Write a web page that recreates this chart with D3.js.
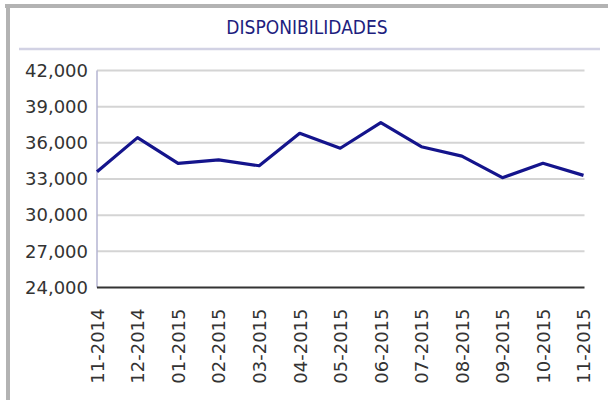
<!DOCTYPE html>
<html>
<head>
<meta charset="utf-8">
<style>
  body { margin: 0; background: #fff; }
  svg { display: block; font-family: "DejaVu Sans", sans-serif; }
</style>
</head>
<body>
<script src="https://cdn.jsdelivr.net/npm/d3@7/dist/d3.min.js"></script>
<script>

// data
var months = ['11-2014', '12-2014', '01-2015', '02-2015', '03-2015', '04-2015', '05-2015',
              '06-2015', '07-2015', '08-2015', '09-2015', '10-2015', '11-2015'];
var values = [33600, 36430, 34300, 34580, 34100, 36790, 35550,
              37670, 35680, 34900, 33110, 34300, 33300];
var yTicks = [24000, 27000, 30000, 33000, 36000, 39000, 42000];
var title = 'DISPONIBILIDADES';

var W = 615, H = 400;
var x0 = 97, x1 = 583.5, y0 = 287.5, y1 = 70.5;

var svg = d3.select('body').append('svg')
	.attr('width', W)
	.attr('height', H);

// frame
svg.append('rect')
	.attr('x', 5).attr('y', 4).attr('width', 603).attr('height', 4)
	.attr('fill', '#b3b3b3');
svg.append('rect')
	.attr('x', 6).attr('y', 4).attr('width', 4).attr('height', H)
	.attr('fill', '#b3b3b3');

// title
svg.append('text')
	.attr('x', 307).attr('y', 34)
	.attr('text-anchor', 'middle')
	.attr('font-family', '"DejaVu Sans Condensed", "DejaVu Sans", sans-serif')
	.attr('font-size', 19)
	.attr('fill', '#1e1e7e')
	.text(title);
svg.append('line')
	.attr('x1', 19).attr('x2', 600)
	.attr('y1', 49).attr('y2', 49)
	.attr('stroke', '#d2d2e4').attr('stroke-width', 2.5);

// scales
var x = d3.scalePoint()
	.domain(months)
	.range([x0, x1]);

var y = d3.scaleLinear()
	.domain([24000, 42000])
	.range([y0, y1]);

var fmt = d3.format(',');

// grid
svg.append('g')
	.selectAll('line')
	.data(yTicks.slice(1))
	.join('line')
		.attr('x1', x0).attr('x2', x1 + 1)
		.attr('y1', d => y(d)).attr('y2', d => y(d))
		.attr('stroke', '#d4d4d4')
		.attr('stroke-width', 2);

// y axis
var yAxis = svg.append('g')
	.attr('transform', `translate(${x0},0)`)
	.call(d3.axisLeft(y).tickValues(yTicks).tickFormat(fmt).tickSize(0).tickPadding(9))
	.call(g => g.select('.domain').remove());
yAxis.selectAll('text')
	.attr('font-size', 18)
	.attr('font-family', '"DejaVu Sans", sans-serif')
	.attr('fill', '#333');
svg.append('line')
	.attr('x1', x0).attr('x2', x0)
	.attr('y1', y1).attr('y2', y0)
	.attr('stroke', '#b4b4d2').attr('stroke-width', 1.5);

// x axis
var xAxis = svg.append('g')
	.attr('transform', `translate(0,${y0})`)
	.call(d3.axisBottom(x).tickSize(0).tickPadding(0))
	.call(g => g.select('.domain').remove());
xAxis.selectAll('text')
	.attr('font-size', 18)
	.attr('font-family', '"DejaVu Sans", sans-serif')
	.attr('fill', '#333')
	.attr('text-anchor', 'end')
	.attr('dy', '0.35em')
	.attr('y', 0)
	.attr('transform', 'translate(0,21) rotate(-90)')
	.attr('x', 0);
svg.append('line')
	.attr('x1', x0).attr('x2', x1 + 1)
	.attr('y1', y0).attr('y2', y0)
	.attr('stroke', '#333').attr('stroke-width', 2);

// line
var line = d3.line()
	.x((d, i) => x(months[i]))
	.y(d => y(d));

svg.append('path')
	.datum(values)
	.attr('fill', 'none')
	.attr('stroke', '#14148c')
	.attr('stroke-width', 3.2)
	.attr('stroke-linejoin', 'round')
	.attr('d', line);

</script>
</body>
</html>
